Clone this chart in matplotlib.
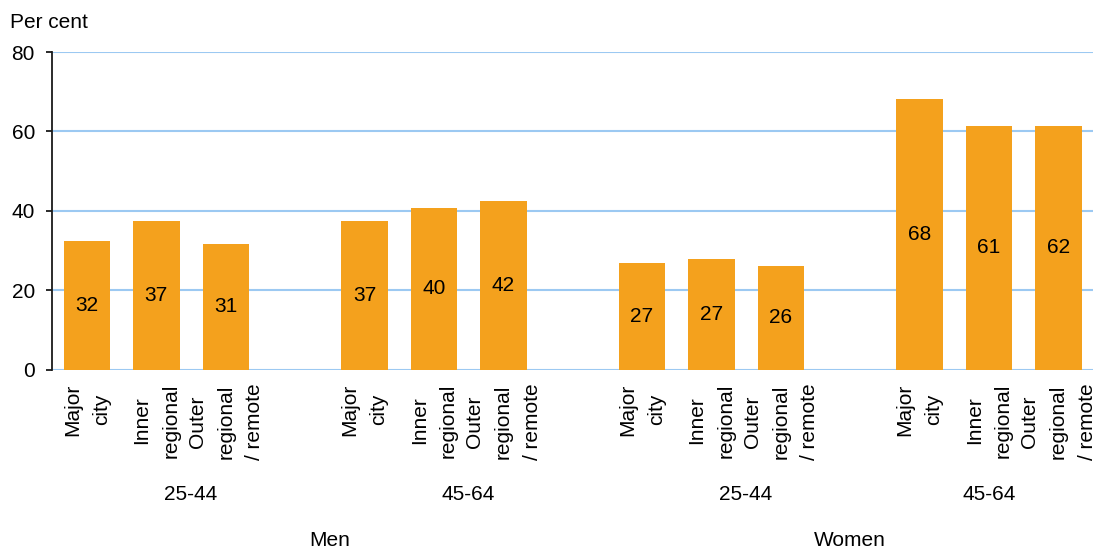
import numpy as np
import matplotlib
matplotlib.use('Agg')
import matplotlib.pyplot as plt
import matplotlib.transforms as mtransforms

plt.rcParams['font.family'] = ['Liberation Sans', 'DejaVu Sans']
plt.rcParams['font.size'] = 15

# Data
sexes = ['Men', 'Women']
ages = ['25-44', '45-64']
areas = ['Major\ncity', 'Inner\nregional', 'Outer\nregional\n/ remote']
heights = [32.5, 37.3, 31.7,
           37.3, 40.6, 42.4,
           26.9, 27.9, 26.2,
           68.2, 61.4, 61.4]
value_labels = ['32', '37', '31',
                '37', '40', '42',
                '27', '27', '26',
                '68', '61', '62']
y_ticks = [0, 20, 40, 60, 80]

bar_color = '#F4A11D'
grid_color = '#9CC9F2'

# Each age group takes 4 slots (3 bars + 1 empty gap)
n_groups = len(sexes) * len(ages)
positions = []
tick_labels = []
for g in range(n_groups):
    for a, area in enumerate(areas):
        positions.append(g * 4 + a)
        tick_labels.append(area)
positions = np.array(positions)

fig = plt.figure(figsize=(10.96, 5.51), dpi=100)
W, H = 1096, 551
left, right, top, bottom = 52.3, 1093, 52, 369.5
ax = fig.add_axes([left / W, 1 - bottom / H, (right - left) / W, (bottom - top) / H])

bars = ax.bar(positions, heights, width=0.67, color=bar_color, zorder=3)
ax.bar_label(bars, labels=value_labels, label_type='center', fontsize=15, zorder=4)

ax.set_xlim(-0.5, 14.5)
ax.set_ylim(0, 80)
ax.set_yticks(y_ticks)
ax.yaxis.grid(True, color=grid_color, linewidth=1.5, zorder=0)
ax.set_axisbelow(True)

for s in ['top', 'right', 'bottom']:
    ax.spines[s].set_visible(False)
ax.spines['left'].set_color('#1a1a1a')
ax.spines['left'].set_linewidth(1.3)
ax.spines['left'].set_zorder(5)

ax.tick_params(axis='y', length=4.5, width=1.3, color='#1a1a1a', pad=8, labelsize=15)
ax.set_xticks(positions)
ax.set_xticklabels(tick_labels, rotation=90, va='top', ha='center',
                   multialignment='center', linespacing=1.65, fontsize=15)
ax.tick_params(axis='x', length=0, pad=10)

# Group labels beneath the tick labels
trans = mtransforms.blended_transform_factory(ax.transData, fig.transFigure)
for g in range(n_groups):
    slots = [g * 4 + a for a in range(len(areas))]
    if g < n_groups - 1:
        slots.append(g * 4 + 3)
    xc = (min(slots) + max(slots)) / 2
    ax.text(xc, 1 - 495 / H, ages[g % len(ages)], transform=trans,
            ha='center', va='center', fontsize=15)

for s, sex in enumerate(sexes):
    first = s * 8
    last = min(first + 7, 14)
    ax.text((first + last) / 2, 1 - 541 / H, sex, transform=trans,
            ha='center', va='center', fontsize=15)

fig.text(10 / W, 1 - 22 / H, 'Per cent', ha='left', va='center', fontsize=15)

fig.savefig('out.png', dpi=100)
